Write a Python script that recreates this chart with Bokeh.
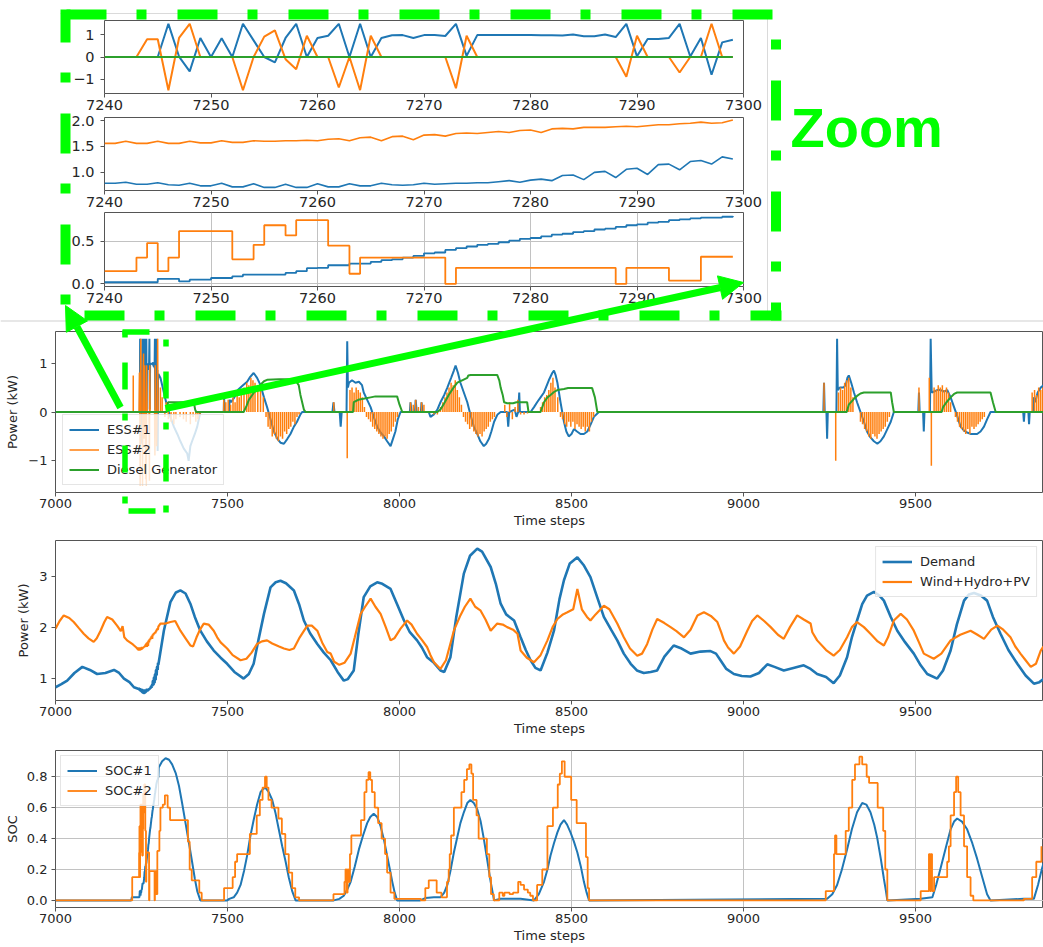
from bokeh.plotting import figure
from bokeh.models import (Range1d, FixedTicker, PrintfTickFormatter, Legend, LegendItem,
                          Arrow, NormalHead, Label)
from bokeh.layouts import column
from bokeh.embed import file_html
from bokeh.resources import INLINE

C1, C2, C3 = "#1f77b4", "#ff7f0e", "#2ca02c"
LIME = "#00ff00"
FONT = "DejaVu Sans"

# ---------------- zoom window data (time steps 7240..7299) ----------------
ZOOM_T = list(range(7240, 7300))
ESS1_ZOOM = [0, 0, 0, 0, 0, 0, 1.5, 0.02, -0.65, 0.86,
             0.0, 0.85, 0.0, 1.5, 0.75, 0.0, -0.24, 0.86, 1.5, 0.0,
             0.86, 0.96, 1.5, 0.0, 1.5, 0.0, 0.86, 0.98, 0.99, 0.86,
             0.99, 0.99, 0.95, 1.5, 0.05, 0.99, 0.99, 0.99, 0.99, 0.99,
             0.99, 0.98, 0.98, 0.97, 1.02, 0.94, 0.94, 1.02, 0.90, 1.5,
             0.03, 0.81, 0.81, 0.86, 1.5, 0.02, 0.86, -0.80, 0.66, 0.78]
ESS2_ZOOM = [0, 0, 0, 0, 0.80, 0.80, -1.5, 0.86, 1.5, 0,
             0, 0, 0, -1.5, 0, 0.92, 1.2, -0.1, -0.55, 0.96,
             0, 0, -1.38, 0, -1.5, 0.96, 0, 0, 0, 0,
             0, 0, 0, -1.41, 0.96, 0, 0, 0, 0, 0,
             0, 0, 0, 0, 0, 0, 0, 0, 0, -0.89,
             0.96, 0, 0, 0, -0.70, 0, 0, 1.5, 0, 0]
DG_ZOOM = [0] * 60
GEN_ZOOM = [1.56, 1.56, 1.60, 1.56, 1.56, 1.60, 1.56, 1.56, 1.60, 1.57,
            1.57, 1.61, 1.58, 1.58, 1.61, 1.60, 1.60, 1.61, 1.61, 1.62,
            1.61, 1.64, 1.65, 1.61, 1.67, 1.68, 1.61, 1.69, 1.70, 1.63,
            1.72, 1.73, 1.70, 1.75, 1.76, 1.75, 1.77, 1.79, 1.77, 1.81,
            1.82, 1.77, 1.84, 1.85, 1.84, 1.87, 1.87, 1.87, 1.88, 1.89,
            1.88, 1.90, 1.92, 1.92, 1.94, 1.95, 1.97, 1.95, 1.96, 2.01]
DEM_ZOOM = [0.79, 0.79, 0.81, 0.77, 0.77, 0.80, 0.76, 0.75, 0.79, 0.74,
            0.74, 0.79, 0.72, 0.72, 0.78, 0.71, 0.71, 0.77, 0.71, 0.71,
            0.78, 0.72, 0.72, 0.78, 0.74, 0.74, 0.79, 0.76, 0.75, 0.76,
            0.79, 0.77, 0.78, 0.79, 0.79, 0.80, 0.80, 0.82, 0.84, 0.81,
            0.85, 0.87, 0.84, 0.94, 0.95, 0.86, 1.00, 1.02, 0.90, 1.06,
            1.08, 0.96, 1.15, 1.16, 1.05, 1.21, 1.23, 1.16, 1.30, 1.26]
SOC1_ZOOM = [0.02, 0.02, 0.02, 0.02, 0.02, 0.06, 0.06, 0.03, 0.05, 0.05,
             0.07, 0.07, 0.09, 0.11, 0.11, 0.11, 0.11, 0.13, 0.15, 0.185,
             0.19, 0.22, 0.22, 0.24, 0.24, 0.26, 0.28, 0.29, 0.31, 0.33,
             0.36, 0.37, 0.40, 0.42, 0.44, 0.46, 0.47, 0.49, 0.51, 0.53,
             0.54, 0.56, 0.58, 0.59, 0.61, 0.62, 0.64, 0.65, 0.67, 0.69,
             0.70, 0.72, 0.73, 0.75, 0.76, 0.77, 0.78, 0.78, 0.79, 0.80]
SOC2_ZOOM = [0.15, 0.15, 0.15, 0.31, 0.48, 0.15, 0.31, 0.62, 0.62, 0.62,
             0.62, 0.62, 0.29, 0.29, 0.46, 0.69, 0.69, 0.57, 0.75, 0.75,
             0.75, 0.45, 0.45, 0.12, 0.31, 0.31, 0.31, 0.31, 0.31, 0.31,
             0.31, 0.31, 0.0, 0.19, 0.19, 0.19, 0.19, 0.19, 0.19, 0.19,
             0.19, 0.19, 0.19, 0.19, 0.19, 0.19, 0.19, 0.19, 0.0, 0.19,
             0.19, 0.19, 0.19, 0.04, 0.04, 0.04, 0.32, 0.32, 0.32, 0.32]

# ---------------- full-period data (outside the zoom window) ----------------
ESS1_MAIN = [(7000, 0), (7238, 0),
    (7305, 0.7), (7315, 0.4), (7325, 0.1), (7334, -0.1), (7344, -0.3), (7354, -0.45), (7363, -0.6),
    (7373, -0.75), (7383, -0.85), (7387, -1.0), (7392, -0.7), (7397, -0.6), (7405, -0.45), (7412, -0.3), (7421, 0.0),
    (7489, 0.0), (7490, 0.3), (7492, 0.0), (7505, 0.0), (7506, 0.25), (7510, 0.2), (7520, 0.3), (7530, 0.45),
    (7545, 0.55), (7557, 0.62), (7566, 0.72), (7576, 0.80), (7586, 0.70), (7596, 0.55), (7606, 0.3), (7615, 0.1),
    (7625, -0.15), (7635, -0.4), (7645, -0.55), (7654, -0.63), (7664, -0.65), (7674, -0.55), (7683, -0.45),
    (7693, -0.3), (7702, -0.2), (7712, -0.05), (7717, 0.0),
    (7805, 0.0), (7808, 0.2), (7811, 0.0), (7826, 0.0), (7829, -0.3), (7832, 0.0), (7846, 0.0), (7848, 1.45),
    (7850, 0.5), (7853, 0.6), (7862, 0.65), (7872, 0.6), (7882, 0.62), (7891, 0.55), (7896, 0.4), (7906, 0.25),
    (7916, 0.1), (7925, -0.1), (7935, -0.3), (7945, -0.42), (7955, -0.5), (7964, -0.6), (7974, -0.7), (7981, -0.55),
    (7988, -0.4), (7995, -0.15), (8003, 0.0),
    (8030, 0.0), (8032, 0.2), (8035, 0.0), (8045, 0.0), (8047, 0.25), (8050, 0.0), (8062, 0.0), (8064, 0.2),
    (8067, 0.0), (8085, 0.0), (8090, -0.1), (8100, -0.05), (8110, 0.05), (8119, 0.2), (8130, 0.35), (8139, 0.5),
    (8150, 0.7), (8158, 0.85), (8163, 0.95), (8170, 0.8), (8177, 0.6), (8187, 0.4), (8197, 0.2), (8206, -0.05),
    (8216, -0.3), (8226, -0.45), (8235, -0.6), (8245, -0.7), (8252, -0.65), (8260, -0.55), (8267, -0.4),
    (8275, -0.2), (8285, -0.05), (8294, 0.0),
    (8313, 0.0), (8316, -0.3), (8319, 0.0), (8335, 0.05), (8340, -0.1), (8345, 0.0), (8348, 0.4), (8350, 0.0),
    (8381, 0.0), (8391, 0.1), (8400, 0.2), (8410, 0.3), (8420, 0.4), (8434, 0.65), (8444, 0.8), (8449, 0.85),
    (8454, 0.75), (8459, 0.6), (8468, 0.2), (8478, -0.2), (8485, -0.4), (8492, -0.5), (8500, -0.45), (8507, -0.35),
    (8516, -0.4), (8526, -0.45), (8536, -0.45), (8546, -0.4), (8556, -0.25), (8565, -0.1), (8575, -0.03), (8580, 0.0),
    (9232, 0.0), (9234, 0.6), (9236, 0.0), (9241, 0.0), (9243, -0.55), (9245, 0.0), (9270, 0.0), (9272, 1.5),
    (9274, 0.45), (9280, 0.5), (9290, 0.5), (9297, 0.55), (9302, 0.7), (9306, 0.75), (9313, 0.6), (9321, 0.4),
    (9330, 0.2), (9340, 0.0), (9350, -0.2), (9359, -0.4), (9369, -0.52), (9379, -0.6), (9389, -0.65), (9398, -0.6),
    (9408, -0.5), (9418, -0.35), (9428, -0.2), (9437, 0.0),
    (9508, 0.0), (9510, 0.4), (9512, 0.0), (9522, 0.0), (9524, -0.4), (9526, 0.0), (9542, 0.0), (9544, 1.5),
    (9547, 0.4), (9554, 0.42), (9563, 0.45), (9573, 0.45), (9583, 0.42), (9592, 0.45), (9602, 0.3), (9612, 0.1),
    (9622, -0.1), (9631, -0.3), (9641, -0.38), (9650, -0.42), (9660, -0.45), (9670, -0.45), (9679, -0.45),
    (9689, -0.4), (9699, -0.3), (9708, -0.15), (9718, 0.0),
    (9813, 0.0), (9815, -0.2), (9817, 0.0), (9828, 0.0), (9830, -0.25), (9832, 0.0), (9842, 0.0), (9844, 0.3),
    (9848, 0.2), (9855, 0.4), (9864, 0.5), (9872, 0.55)]

ESS2_BARS = [(7226, 0.75),
    (7305, 0.5), (7310, 0.3), (7318, -0.1), (7322, 0.2), (7328, -0.15), (7336, -0.2), (7344, -0.25), (7350, -0.15),
    (7362, -0.1), (7372, -0.15), (7380, -0.2), (7392, -0.25), (7400, -0.1), (7408, -0.2), (7414, -0.15), (7420, -0.05),
    (7489, 0.25), (7495, 0.2), (7502, 0.25), (7509, 0.15), (7516, 0.3), (7522, 0.2), (7528, 0.4), (7534, 0.3),
    (7540, 0.45), (7548, 0.5), (7556, 0.6), (7562, 0.55), (7568, 0.7), (7574, 0.65), (7580, 0.6), (7588, 0.55),
    (7596, 0.5), (7604, 0.3),
    (7612, -0.1), (7618, -0.3), (7624, -0.35), (7630, -0.5), (7636, -0.45), (7642, -0.55), (7648, -0.6), (7654, -0.5),
    (7660, -0.55), (7666, -0.4), (7672, -0.45), (7678, -0.35), (7684, -0.3), (7690, -0.2), (7696, -0.25),
    (7702, -0.1), (7708, -0.05),
    (7809, 0.2), (7848, -0.95), (7856, 0.45), (7862, 0.5), (7868, 0.4), (7874, 0.5), (7880, 0.45), (7886, 0.4),
    (7892, 0.3), (7898, 0.1), (7904, -0.1), (7910, -0.15), (7916, -0.2), (7922, -0.3), (7928, -0.35), (7934, -0.4),
    (7940, -0.45), (7946, -0.5), (7952, -0.55), (7958, -0.5), (7964, -0.55), (7970, -0.45), (7976, -0.4),
    (7982, -0.3), (7988, -0.2), (7994, -0.1),
    (8032, 0.2), (8040, 0.15), (8047, 0.25), (8055, 0.1), (8064, 0.2), (8071, 0.15), (8100, -0.05), (8110, -0.05),
    (8119, 0.1), (8126, 0.2), (8132, 0.3), (8138, 0.4), (8144, 0.5), (8150, 0.6), (8156, 0.55), (8162, 0.65),
    (8168, 0.45), (8174, 0.3), (8180, 0.15),
    (8186, -0.1), (8192, -0.2), (8198, -0.25), (8204, -0.35), (8210, -0.3), (8216, -0.4), (8222, -0.45),
    (8228, -0.5), (8234, -0.45), (8240, -0.5), (8246, -0.4), (8252, -0.35), (8258, -0.3), (8264, -0.2),
    (8270, -0.15), (8276, -0.1),
    (8306, 0.15), (8312, -0.1), (8320, 0.2), (8328, -0.15), (8336, 0.1), (8344, 0.25), (8352, -0.05),
    (8362, -0.05), (8372, -0.03),
    (8410, 0.1), (8416, 0.2), (8422, 0.3), (8428, 0.35), (8434, 0.45), (8440, 0.6), (8446, 0.7), (8452, 0.5),
    (8460, 0.3),
    (8468, -0.1), (8474, -0.15), (8480, -0.25), (8486, -0.3), (8492, -0.2), (8498, -0.3), (8504, -0.2),
    (8510, -0.35), (8516, -0.25), (8522, -0.3), (8528, -0.35), (8534, -0.3), (8540, -0.4), (8546, -0.3),
    (8552, -0.4), (8558, -0.2), (8564, -0.1),
    (9234, 0.6), (9268, -1.0), (9276, 0.4), (9282, 0.5), (9288, 0.45), (9294, 0.6), (9300, 0.65), (9306, 0.7),
    (9312, 0.5), (9318, 0.3),
    (9340, -0.2), (9346, -0.25), (9352, -0.35), (9358, -0.4), (9364, -0.5), (9370, -0.55), (9376, -0.45),
    (9382, -0.5), (9388, -0.55), (9394, -0.45), (9400, -0.4), (9406, -0.35), (9412, -0.3), (9418, -0.2),
    (9424, -0.1),
    (9510, 0.5), (9540, 0.7), (9546, -1.1), (9554, 0.5), (9560, 0.45), (9566, 0.55), (9572, 0.5), (9578, 0.55),
    (9584, 0.45), (9590, 0.5), (9596, 0.4), (9602, 0.2),
    (9616, -0.1), (9622, -0.2), (9628, -0.3), (9634, -0.35), (9640, -0.4), (9646, -0.45), (9652, -0.35),
    (9658, -0.45), (9664, -0.3), (9670, -0.35), (9676, -0.3), (9682, -0.25), (9688, -0.2), (9694, -0.15),
    (9700, -0.1),
    (9839, 0.4), (9846, 0.45), (9852, 0.35), (9858, 0.5), (9864, 0.45), (9870, 0.5)]

DG_MAIN = [(7000, 0), (7324, 0), (7327, 0.2), (7402, 0.2), (7406, 0.05), (7409, 0),
    (7547, 0), (7555, 0.12), (7562, 0.25), (7575, 0.38), (7586, 0.47), (7596, 0.56), (7606, 0.63), (7615, 0.66),
    (7650, 0.67), (7693, 0.67), (7700, 0.62), (7707, 0.55), (7712, 0.35), (7717, 0.2), (7722, 0.05), (7727, 0),
    (7865, 0), (7867, 0.2), (7880, 0.25), (7895, 0.27), (7916, 0.30), (7930, 0.32), (7993, 0.32), (8000, 0.15),
    (8008, 0),
    (8110, 0), (8119, 0.05), (8130, 0.18), (8143, 0.35), (8155, 0.48), (8168, 0.6), (8185, 0.66), (8197, 0.7),
    (8200, 0.75), (8207, 0.76), (8284, 0.76), (8290, 0.65), (8294, 0.5), (8300, 0.35), (8304, 0.2), (8313, 0.18),
    (8330, 0.18), (8340, 0.2), (8352, 0.2), (8371, 0.2), (8375, 0),
    (8410, 0), (8420, 0.2), (8430, 0.3), (8439, 0.35), (8449, 0.41), (8459, 0.45), (8478, 0.47), (8490, 0.49),
    (8560, 0.49), (8568, 0.3), (8575, 0),
    (9300, 0), (9306, 0.15), (9321, 0.27), (9330, 0.33), (9340, 0.38), (9350, 0.4), (9428, 0.4), (9432, 0.2),
    (9437, 0),
    (9576, 0), (9580, 0.1), (9590, 0.2), (9602, 0.3), (9612, 0.37), (9621, 0.4), (9718, 0.4), (9725, 0.2),
    (9733, 0), (9872, 0)]

DEMAND_MAIN = [(7000, 0.82), (7017, 0.88), (7034, 0.95), (7055, 1.10), (7078, 1.22), (7100, 1.16), (7121, 1.08),
    (7145, 1.10), (7170, 1.16), (7185, 1.10), (7199, 0.99), (7215, 0.92), (7228, 0.82),
    (7315, 1.93), (7334, 2.49), (7350, 2.68), (7363, 2.72), (7378, 2.66), (7392, 2.46), (7405, 2.2), (7421, 1.93),
    (7440, 1.72), (7460, 1.54), (7480, 1.40), (7499, 1.28), (7520, 1.12), (7547, 0.99), (7562, 1.08), (7576, 1.28),
    (7590, 1.75), (7606, 2.26), (7625, 2.78), (7640, 2.88), (7654, 2.91), (7670, 2.86), (7693, 2.72), (7708, 2.45),
    (7722, 2.13), (7740, 1.88), (7761, 1.67), (7780, 1.50), (7800, 1.35), (7820, 1.12), (7838, 0.95), (7850, 0.98),
    (7867, 1.15), (7880, 1.85), (7896, 2.59), (7915, 2.80), (7935, 2.88), (7950, 2.85), (7974, 2.75), (7993, 2.45),
    (8013, 2.13), (8030, 1.90), (8051, 1.74), (8065, 1.60), (8080, 1.41), (8100, 1.30), (8119, 1.15), (8130, 1.12),
    (8148, 1.41), (8165, 2.2), (8187, 3.05), (8205, 3.40), (8226, 3.54), (8240, 3.48), (8265, 3.18), (8280, 2.85),
    (8294, 2.46), (8310, 2.25), (8333, 2.13), (8352, 1.80), (8367, 1.55), (8381, 1.35), (8395, 1.20), (8410, 1.15),
    (8430, 1.50), (8449, 1.93), (8465, 2.55), (8478, 2.92), (8495, 3.25), (8517, 3.37), (8535, 3.22), (8555, 2.98),
    (8575, 2.58), (8594, 2.20), (8615, 1.95), (8633, 1.74), (8652, 1.48), (8672, 1.28), (8690, 1.15), (8710, 1.10),
    (8730, 1.12), (8749, 1.15), (8770, 1.42), (8797, 1.64), (8820, 1.58), (8846, 1.48), (8875, 1.52), (8904, 1.53),
    (8920, 1.48), (8933, 1.35), (8950, 1.18), (8972, 1.08), (8995, 1.04), (9020, 1.03), (9045, 1.10), (9069, 1.27),
    (9090, 1.22), (9117, 1.15), (9145, 1.20), (9175, 1.25), (9195, 1.18), (9214, 1.08), (9240, 1.02), (9262, 0.90),
    (9280, 1.05), (9301, 1.41), (9315, 1.80), (9330, 2.13), (9345, 2.45), (9359, 2.62), (9379, 2.69), (9395, 2.62),
    (9408, 2.52), (9428, 2.2), (9447, 1.93), (9470, 1.70), (9495, 1.48), (9515, 1.25), (9534, 1.08), (9563, 0.99),
    (9580, 1.15), (9602, 1.54), (9620, 2.05), (9641, 2.52), (9655, 2.64), (9670, 2.67), (9690, 2.62), (9708, 2.52),
    (9725, 2.2), (9747, 1.87), (9770, 1.55), (9796, 1.28), (9820, 1.05), (9844, 0.89), (9860, 0.92), (9872, 0.98)]

GEN_MAIN = [(7000, 1.97), (7012, 2.12), (7024, 2.23), (7040, 2.18), (7053, 2.10), (7068, 1.98), (7082, 1.87),
    (7096, 1.78), (7111, 1.71), (7120, 1.78), (7131, 1.93), (7142, 2.10), (7150, 2.20), (7165, 2.15), (7179, 2.03),
    (7190, 1.92), (7195, 2.02), (7200, 1.80), (7208, 1.74), (7225, 1.66), (7235, 1.60),
    (7305, 2.07), (7320, 2.07), (7334, 2.10), (7348, 2.12), (7363, 1.93), (7378, 1.78), (7392, 1.64), (7400, 1.62),
    (7410, 1.80), (7420, 1.95), (7431, 2.07), (7445, 2.05), (7460, 1.93), (7470, 1.80), (7480, 1.70), (7499, 1.58),
    (7515, 1.45), (7538, 1.35), (7555, 1.38), (7570, 1.50), (7586, 1.67), (7600, 1.72), (7615, 1.74), (7630, 1.68),
    (7650, 1.62), (7664, 1.58), (7680, 1.55), (7693, 1.58), (7710, 1.80), (7732, 2.03), (7745, 2.03), (7761, 1.93),
    (7775, 1.70), (7790, 1.51), (7800, 1.48), (7810, 1.32), (7825, 1.26), (7840, 1.30), (7858, 1.48), (7870, 1.80),
    (7887, 2.26), (7900, 2.40), (7916, 2.56), (7930, 2.40), (7945, 2.26), (7960, 2.0), (7974, 1.74), (7985, 1.78),
    (8003, 1.97), (8022, 2.13), (8035, 2.05), (8051, 1.87), (8065, 1.75), (8080, 1.61), (8090, 1.45), (8100, 1.31),
    (8119, 1.18), (8135, 1.35), (8158, 1.93), (8177, 2.23), (8190, 2.40), (8206, 2.56), (8220, 2.40), (8235, 2.33),
    (8250, 2.15), (8265, 1.93), (8284, 2.07), (8300, 2.05), (8313, 2.00), (8330, 1.95), (8343, 1.87), (8352, 1.54),
    (8370, 1.40), (8391, 1.31), (8410, 1.45), (8430, 1.74), (8445, 2.00), (8459, 2.16), (8475, 2.25), (8488, 2.29),
    (8505, 2.35), (8517, 2.75), (8530, 2.35), (8545, 2.20), (8555, 2.13), (8570, 2.25), (8594, 2.42), (8610, 2.35),
    (8633, 2.07), (8652, 1.80), (8670, 1.58), (8691, 1.44), (8705, 1.48), (8720, 1.67), (8735, 1.95), (8749, 2.16),
    (8770, 2.08), (8788, 2.00), (8805, 1.92), (8827, 1.80), (8846, 1.95), (8866, 2.23), (8885, 2.29), (8905, 2.22),
    (8924, 2.10), (8935, 1.90), (8943, 1.74), (8955, 1.60), (8972, 1.48), (8990, 1.62), (9011, 1.93), (9025, 2.12),
    (9040, 2.23), (9060, 2.12), (9079, 2.00), (9100, 1.85), (9117, 1.77), (9135, 2.0), (9156, 2.23), (9175, 2.15),
    (9195, 2.07), (9200, 1.90), (9214, 1.74), (9240, 1.55), (9262, 1.44), (9280, 1.55), (9301, 1.80), (9315, 2.0),
    (9330, 2.10), (9350, 2.0), (9369, 1.87), (9390, 1.72), (9408, 1.64), (9420, 1.80), (9437, 2.13), (9457, 2.26),
    (9475, 2.15), (9495, 1.93), (9510, 1.70), (9524, 1.48), (9553, 1.38), (9575, 1.48), (9602, 1.74), (9630, 1.85),
    (9660, 1.93), (9680, 1.85), (9699, 1.77), (9720, 1.95), (9738, 2.03), (9755, 1.95), (9776, 1.80), (9790, 1.62),
    (9805, 1.48), (9820, 1.35), (9835, 1.22), (9850, 1.28), (9864, 1.54), (9872, 1.62)]

SOC1_MAIN = [(7000, 0), (7220, 0), (7222, 0.02),
    (7300, 0.86), (7310, 0.90), (7320, 0.92), (7330, 0.91), (7339, 0.88), (7350, 0.82), (7359, 0.74), (7368, 0.63),
    (7378, 0.50), (7388, 0.37), (7397, 0.25), (7405, 0.14), (7412, 0.06), (7421, 0.0), (7499, 0.0), (7505, 0.01),
    (7518, 0.02), (7528, 0.05), (7538, 0.10), (7548, 0.19), (7557, 0.29), (7566, 0.41), (7576, 0.52), (7586, 0.62),
    (7596, 0.70), (7603, 0.72), (7610, 0.73), (7620, 0.70), (7630, 0.65), (7640, 0.56), (7649, 0.46), (7659, 0.35),
    (7669, 0.25), (7678, 0.15), (7688, 0.06), (7698, 0.0), (7809, 0.0), (7825, 0.01), (7838, 0.03), (7848, 0.07),
    (7858, 0.12), (7870, 0.22), (7882, 0.33), (7894, 0.42), (7906, 0.50), (7915, 0.54), (7925, 0.56), (7935, 0.54),
    (7945, 0.48), (7955, 0.39), (7964, 0.29), (7972, 0.20), (7979, 0.12), (7986, 0.05), (7993, 0.0), (8060, 0.0),
    (8075, 0.015), (8100, 0.02), (8119, 0.02), (8130, 0.05), (8139, 0.10), (8148, 0.19), (8158, 0.31), (8168, 0.41),
    (8177, 0.50), (8187, 0.57), (8197, 0.63), (8206, 0.65), (8216, 0.63), (8226, 0.59), (8236, 0.51), (8245, 0.40),
    (8255, 0.26), (8265, 0.12), (8275, 0.0), (8294, 0.01), (8352, 0.01), (8391, 0.0), (8405, 0.04), (8420, 0.12),
    (8430, 0.20), (8439, 0.29), (8449, 0.37), (8459, 0.44), (8468, 0.49), (8478, 0.52), (8487, 0.49), (8497, 0.44),
    (8507, 0.38), (8517, 0.31), (8527, 0.22), (8536, 0.12), (8544, 0.05), (8551, 0.0), (9243, 0.01), (9258, 0.04),
    (9272, 0.10), (9286, 0.20), (9301, 0.33), (9315, 0.46), (9330, 0.57), (9345, 0.63), (9357, 0.62), (9369, 0.57),
    (9380, 0.49), (9389, 0.40), (9399, 0.27), (9408, 0.14), (9414, 0.06), (9418, 0.0), (9515, 0.01), (9549, 0.02),
    (9560, 0.10), (9573, 0.21), (9588, 0.34), (9602, 0.46), (9612, 0.51), (9621, 0.53), (9635, 0.51), (9650, 0.46),
    (9665, 0.37), (9679, 0.27), (9694, 0.15), (9708, 0.04), (9718, 0.0), (9815, 0.01), (9844, 0.01), (9856, 0.10),
    (9868, 0.21), (9872, 0.24)]

SOC2_MAIN = [(7000, 0), (7223, 0.15),
    (7300, 0.32), (7302, 0.45), (7305, 0.60), (7312, 0.62), (7318, 0.68), (7326, 0.60), (7333, 0.52), (7385, 0.38),
    (7390, 0.20), (7396, 0.13), (7418, 0.05), (7425, 0.0), (7490, 0.08), (7515, 0.15), (7522, 0.25), (7528, 0.30),
    (7565, 0.43), (7585, 0.55), (7594, 0.65), (7602, 0.73), (7609, 0.80), (7614, 0.73), (7619, 0.65), (7628, 0.60),
    (7648, 0.53), (7658, 0.43), (7668, 0.30), (7678, 0.18), (7688, 0.08), (7697, 0.02), (7708, 0.0), (7808, 0.04),
    (7840, 0.12), (7843, 0.20), (7846, 0.05), (7849, 0.20), (7852, 0.12), (7856, 0.30), (7860, 0.42), (7888, 0.52),
    (7898, 0.70), (7904, 0.78), (7910, 0.83), (7915, 0.78), (7920, 0.70), (7928, 0.60), (7938, 0.50), (7948, 0.40),
    (7958, 0.30), (7964, 0.18), (7974, 0.05), (7985, 0.01), (8062, 0.0), (8075, 0.08), (8085, 0.13), (8108, 0.05),
    (8122, 0.02), (8138, 0.12), (8143, 0.20), (8146, 0.30), (8150, 0.42), (8158, 0.60), (8180, 0.70), (8188, 0.78),
    (8196, 0.85), (8203, 0.88), (8209, 0.82), (8214, 0.65), (8224, 0.55), (8230, 0.40), (8254, 0.30), (8261, 0.15),
    (8266, 0.04), (8274, 0.0), (8290, 0.05), (8300, 0.03), (8305, 0.05), (8320, 0.04), (8330, 0.05), (8345, 0.12),
    (8352, 0.10), (8362, 0.07), (8373, 0.05), (8380, 0.03), (8388, 0.0), (8400, 0.10), (8415, 0.20), (8430, 0.48),
    (8446, 0.60), (8460, 0.75), (8466, 0.82), (8472, 0.90), (8480, 0.80), (8499, 0.65), (8515, 0.50), (8542, 0.28),
    (8547, 0.08), (8551, 0.0), (9239, 0.06), (9263, 0.30), (9266, 0.42), (9270, 0.30), (9297, 0.45), (9306, 0.60),
    (9316, 0.78), (9324, 0.88), (9337, 0.93), (9345, 0.88), (9358, 0.80), (9365, 0.76), (9390, 0.60), (9406, 0.45),
    (9412, 0.20), (9418, 0.0), (9515, 0.06), (9539, 0.30), (9542, 0.06), (9545, 0.30), (9548, 0.06), (9554, 0.15),
    (9592, 0.25), (9597, 0.35), (9602, 0.55), (9612, 0.70), (9618, 0.80), (9624, 0.70), (9631, 0.55), (9641, 0.35),
    (9650, 0.15), (9660, 0.03), (9668, 0.0), (9815, 0.01), (9839, 0.15), (9851, 0.25), (9866, 0.35)]

MAIN_XTICKS = [7000, 7500, 8000, 8500, 9000, 9500]
ZOOM_XTICKS = [7240, 7250, 7260, 7270, 7280, 7290, 7300]

PAGE_W, PAGE_H = 1043, 945


def merged(pairs, zoom_v):
    allp = sorted(list(pairs) + list(zip(ZOOM_T, zoom_v)))
    return [a for a, _ in allp], [b for _, b in allp]


def unzip(pairs):
    return [a for a, _ in pairs], [b for _, b in pairs]


def style(p, xticks, yticks, tick_size, label_size="13px", grid=False, yfmt=None, yover=None,
          tick_standoff=4):
    p.outline_line_color = "#555555"
    p.outline_line_width = 1
    p.background_fill_color = "white"
    for ax in p.axis:
        ax.axis_line_color = None
        ax.major_tick_line_color = "#555555"
        ax.major_tick_out = 4
        ax.major_tick_in = 0
        ax.minor_tick_line_color = None
        ax.major_label_text_font = FONT
        ax.major_label_text_font_size = tick_size
        ax.major_label_text_color = "#262626"
        ax.axis_label_text_font = FONT
        ax.axis_label_text_font_size = label_size
        ax.axis_label_text_font_style = "normal"
        ax.axis_label_text_color = "#262626"
    p.xaxis.major_label_standoff = 2
    p.yaxis.major_label_standoff = tick_standoff
    p.xaxis.axis_label_standoff = 2
    p.yaxis.axis_label_standoff = 5
    p.xaxis.ticker = FixedTicker(ticks=xticks)
    p.yaxis.ticker = FixedTicker(ticks=yticks)
    if yfmt:
        p.yaxis.formatter = PrintfTickFormatter(format=yfmt)
    if yover:
        p.yaxis.major_label_overrides = yover
    if grid:
        p.grid.grid_line_color = "#c2c2c2"
        p.grid.grid_line_width = 1
    else:
        p.grid.visible = False


def legend_style(lg, loc, margin):
    lg.location = loc
    lg.margin = margin
    lg.padding = 6
    lg.spacing = 3
    lg.glyph_width = 30
    lg.glyph_height = 17
    lg.label_height = 17
    lg.label_standoff = 8
    lg.label_text_font = FONT
    lg.label_text_font_size = "13px"
    lg.label_text_color = "#262626"
    lg.border_line_color = "#cccccc"
    lg.background_fill_alpha = 0.8


def zoom_fig(h, top, yr, overlap):
    p = figure(width=780, height=h, x_range=Range1d(7240, 7300), y_range=Range1d(*yr),
               min_border_left=104, min_border_right=37, min_border_top=top, min_border_bottom=24,
               toolbar_location=None, output_backend="svg", frame_align=False,
               border_fill_alpha=0)
    if overlap:
        p.margin = (-overlap, 0, 0, 0)
    return p


# ---- zoom panels (transparent borders, slightly overlapping each other) ----
z1 = zoom_fig(117, 20, (-1.65, 1.65), 0)
z1.line(ZOOM_T, ESS1_ZOOM, color=C1, line_width=2)
z1.line(ZOOM_T, ESS2_ZOOM, color=C2, line_width=2)
z1.line(ZOOM_T, DG_ZOOM, color=C3, line_width=2)
style(z1, ZOOM_XTICKS, [-1, 0, 1], "14.5px", yover={-1: "\u22121"}, tick_standoff=6)

z2 = zoom_fig(107, 10, (0.65, 2.06), 10)
z2.line(ZOOM_T, DEM_ZOOM, color=C1, line_width=1.6)
z2.line(ZOOM_T, GEN_ZOOM, color=C2, line_width=1.6)
style(z2, ZOOM_XTICKS, [1.0, 1.5, 2.0], "14.5px", yfmt="%.1f", tick_standoff=6)

z3 = zoom_fig(106, 8, (-0.03, 0.84), 10)
z3.step(ZOOM_T, SOC1_ZOOM, color=C1, line_width=1.8, mode="after")
z3.step(ZOOM_T, SOC2_ZOOM, color=C2, line_width=1.8, mode="after")
style(z3, ZOOM_XTICKS, [0.0, 0.5], "14.5px", yfmt="%.1f", grid=True, tick_standoff=6)


def main_fig(h, top, bottom, yr):
    return figure(width=PAGE_W, height=h, x_range=Range1d(7000, 9872), y_range=Range1d(*yr),
                  min_border_left=55, min_border_right=0, min_border_top=top, min_border_bottom=bottom,
                  toolbar_location=None, output_backend="svg", frame_align=False,
                  x_axis_label="Time steps")


# ---- main panel 1: ESS / diesel power ----
m1 = main_fig(220, 21, 38, (-1.65, 1.65))
e1t, e1v = merged(ESS1_MAIN, ESS1_ZOOM)
r11 = m1.line(e1t, e1v, color=C1, line_width=2)
bt, bv = unzip(ESS2_BARS)
m1.segment(x0=bt, y0=[0] * len(bt), x1=bt, y1=bv, color=C2, line_width=1.5)
r12 = m1.line(ZOOM_T, ESS2_ZOOM, color=C2, line_width=1.5)
dgt, dgv = unzip(DG_MAIN)
r13 = m1.line(dgt, dgv, color=C3, line_width=2)
m1.yaxis.axis_label = "Power (kW)"
style(m1, MAIN_XTICKS, [-1, 0, 1], "13px", yover={-1: "\u22121"})
lg1 = Legend(items=[LegendItem(label="ESS#1", renderers=[r11]),
                    LegendItem(label="ESS#2", renderers=[r12]),
                    LegendItem(label="Diesel Generator", renderers=[r13])])
legend_style(lg1, "bottom_left", 7)
m1.add_layout(lg1)

# ---- main panel 2: demand / generation ----
m2 = main_fig(209, 10, 39, (0.56, 3.70))
dt, dv = merged(DEMAND_MAIN, DEM_ZOOM)
r21 = m2.line(dt, dv, color=C1, line_width=2.6)
gt, gv = merged(GEN_MAIN, GEN_ZOOM)
r22 = m2.line(gt, gv, color=C2, line_width=2.2)
m2.yaxis.axis_label = "Power (kW)"
style(m2, MAIN_XTICKS, [1, 2, 3], "13px")
lg2 = Legend(items=[LegendItem(label="Demand", renderers=[r21]),
                    LegendItem(label="Wind+Hydro+PV", renderers=[r22])])
legend_style(lg2, "top_right", 6)
m2.add_layout(lg2)

# ---- main panel 3: SOC ----
m3 = main_fig(206, 11, 35, (-0.046, 0.97))
s1t, s1v = merged(SOC1_MAIN, SOC1_ZOOM)
r31 = m3.line(s1t, s1v, color=C1, line_width=2)
s2t, s2v = merged(SOC2_MAIN, SOC2_ZOOM)
r32 = m3.step(s2t, s2v, color=C2, line_width=1.8, mode="after")
m3.yaxis.axis_label = "SOC"
style(m3, MAIN_XTICKS, [0.0, 0.2, 0.4, 0.6, 0.8], "13px", yfmt="%.1f", grid=True)
m3.yaxis.axis_label_standoff = 4
lg3 = Legend(items=[LegendItem(label="SOC#1", renderers=[r31]),
                    LegendItem(label="SOC#2", renderers=[r32])])
legend_style(lg3, "top_left", 5)
m3.add_layout(lg3)

# ---- transparent overlay with the green zoom annotations (page pixel coordinates) ----
ov = figure(width=PAGE_W, height=PAGE_H, x_range=Range1d(0, PAGE_W), y_range=Range1d(PAGE_H, 0),
            x_axis_type=None, y_axis_type=None, min_border=0, toolbar_location=None,
            output_backend="svg", outline_line_color=None, frame_align=False,
            background_fill_alpha=0, border_fill_alpha=0)
ov.grid.visible = False
ov.margin = (-PAGE_H, 0, 0, 0)
# faint frame of the pasted zoom picture
ov.line([0, 1043], [320.5, 320.5], line_color="#cfcfcf", line_width=1)
ov.line([60, 767, 767], [13, 13, 318], line_color="#dadada", line_width=1)
# big dash-dot frame around the zoom panels
dash_big = "40 30 10 31"
ov.line([66, 781], [14, 14], line_color=LIME, line_width=10, line_dash=dash_big, line_dash_offset=0)
ov.line([65, 65], [9, 315], line_color=LIME, line_width=10, line_dash=dash_big, line_dash_offset=7)
ov.line([775.5, 775.5], [9, 320], line_color=LIME, line_width=10, line_dash=dash_big, line_dash_offset=40)
ov.line([60, 781], [315, 315], line_color=LIME, line_width=10, line_dash=dash_big, line_dash_offset=87)
# small dash-dot frame marking the zoomed interval
dash_small = "27 24 7 25"
ov.line([122, 168], [331.5, 331.5], line_color=LIME, line_width=5.5, line_dash=dash_small, line_dash_offset=0)
ov.line([124.5, 124.5], [328, 513], line_color=LIME, line_width=5.5, line_dash=dash_small, line_dash_offset=49)
ov.line([165.5, 165.5], [328, 513], line_color=LIME, line_width=5.5, line_dash=dash_small, line_dash_offset=40)
ov.line([122, 168], [510.5, 510.5], line_color=LIME, line_width=5.5, line_dash=dash_small, line_dash_offset=77)
# arrows
ov.add_layout(Arrow(end=NormalHead(size=24, fill_color=LIME, line_color=LIME, line_width=1),
                    x_start=120, y_start=407, x_end=65, y_end=305, line_color=LIME, line_width=7))
ov.add_layout(Arrow(end=NormalHead(size=24, fill_color=LIME, line_color=LIME, line_width=1),
                    x_start=165, y_start=408, x_end=743, y_end=282, line_color=LIME, line_width=7))
ov.add_layout(Label(x=790, y=127, text="Zoom", text_font="Liberation Sans", text_font_style="bold",
                    text_font_size="56px", text_color=LIME, text_baseline="alphabetic", text_align="left"))

layout = column(z1, z2, z3, m1, m2, m3, ov)
open("out.html", "w").write(file_html(layout, INLINE))
